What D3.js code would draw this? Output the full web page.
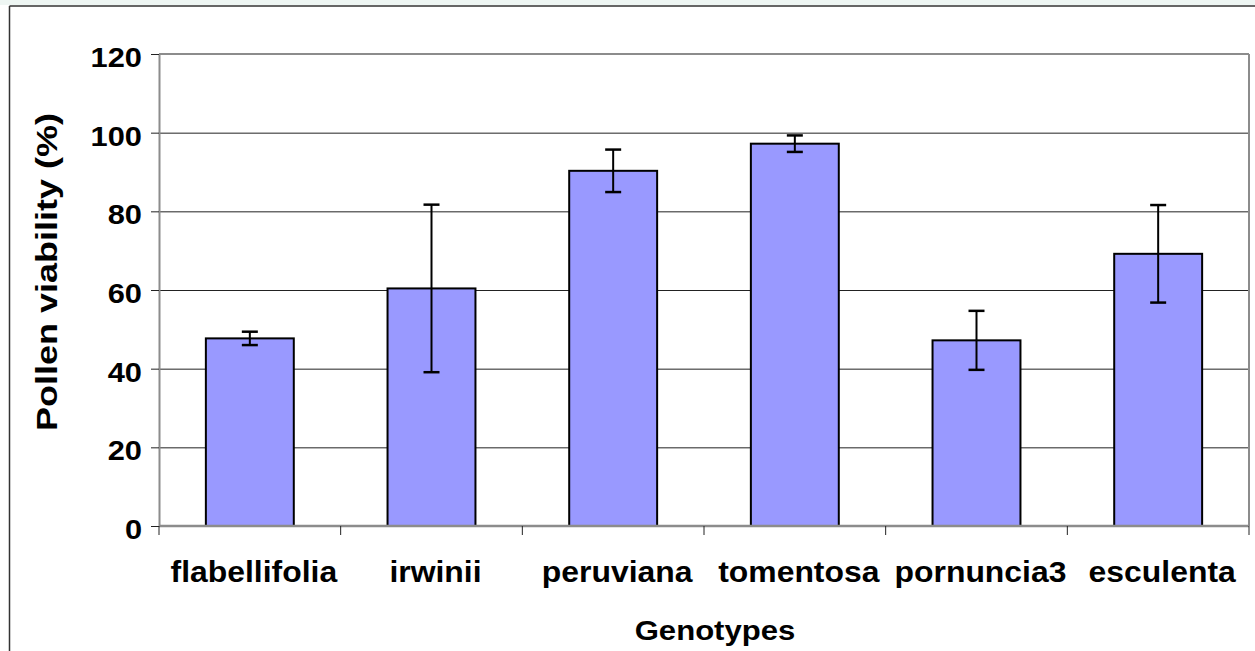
<!DOCTYPE html>
<html lang="en">
<head>
<meta charset="UTF-8">
<title>Pollen viability</title>
<style>
  body { margin: 0; background: #fff; }
  text { font-family: Arial, "Liberation Sans", sans-serif; font-weight: bold; fill: #000; }
</style>
</head>
<body>
<svg width="1255" height="651"></svg>
<script src="https://d3js.org/d3.v7.min.js"></script>
<script>

  var genotypes = ["flabellifolia", "irwinii", "peruviana", "tomentosa", "pornuncia3", "esculenta"];
  var viability = [47.7, 60.4, 90.3, 97.2, 47.2, 69.2];
  var errors = [1.7, 21.3, 5.4, 2.1, 7.5, 12.4];
  var yTicks = [0, 20, 40, 60, 80, 100, 120];

  var margin = {top: 54, right: 6, bottom: 125, left: 159};
  var svg = d3.select("svg");
  var width = +svg.attr("width") - margin.left - margin.right;
  var height = +svg.attr("height") - margin.top - margin.bottom;

  // stretch text a bit wider, like the original export
  function widen(sel, k) {
    sel.each(function() {
      var len = this.getComputedTextLength();
      d3.select(this).attr("textLength", len * k).attr("lengthAdjust", "spacingAndGlyphs");
    });
  }

  // outer frame
  svg.append("rect").attr("x", 0).attr("y", 0).attr("width", 1255).attr("height", 5)
    .attr("fill", "#eef6f3");
  svg.append("line").attr("x1", 9.5).attr("x2", 1255).attr("y1", 6).attr("y2", 6)
    .attr("stroke", "#333").attr("stroke-width", 1.5);
  svg.append("line").attr("x1", 9.5).attr("x2", 9.5).attr("y1", 6).attr("y2", 651)
    .attr("stroke", "#333").attr("stroke-width", 1.5);

  var g = svg.append("g").attr("transform", "translate(" + margin.left + "," + margin.top + ")");

  var y = d3.scaleLinear().domain([0, 120]).range([height, 0]);
  var x = d3.scaleBand().domain(genotypes).range([0, width]).paddingInner(0.516).paddingOuter(0.258);
  var xTicks = d3.scaleBand().domain(genotypes).range([0, width]);

  // gridlines
  g.selectAll(".grid").data(yTicks.filter(function(d) { return d > 0 && d < 120; }))
    .enter().append("line")
    .attr("x1", 0).attr("x2", width)
    .attr("y1", function(d) { return y(d) + 0.5; }).attr("y2", function(d) { return y(d) + 0.5; })
    .attr("stroke", "#222").attr("stroke-width", 1);

  // plot border (top, right)
  g.append("line").attr("x1", 0).attr("x2", width).attr("y1", y(120)).attr("y2", y(120))
    .attr("stroke", "#8c8c8c").attr("stroke-width", 2);
  g.append("line").attr("x1", width).attr("x2", width).attr("y1", y(120)).attr("y2", y(0))
    .attr("stroke", "#8c8c8c").attr("stroke-width", 2);

  // y axis
  var yAxis = g.append("g").call(d3.axisLeft(y).tickValues(yTicks).tickSize(8).tickSizeOuter(0).tickPadding(9));
  yAxis.select(".domain").attr("stroke", "#8c8c8c").attr("stroke-width", 2);
  yAxis.selectAll(".tick line").attr("stroke", "#222");
  yAxis.selectAll("text").attr("font-size", 28).attr("dy", "0.45em")
    .style("font-family", "Arial, 'Liberation Sans', sans-serif").style("font-weight", "bold")
    .call(widen, 1.1);

  // bars
  g.selectAll(".bar").data(genotypes).enter().append("rect")
    .attr("x", function(d) { return x(d); })
    .attr("y", function(d, i) { return y(viability[i]); })
    .attr("width", x.bandwidth())
    .attr("height", function(d, i) { return y(0) - y(viability[i]); })
    .attr("fill", "#9999ff").attr("stroke", "#000").attr("stroke-width", 2);

  // error bars
  var eb = g.selectAll(".err").data(genotypes).enter().append("g");
  var cx = function(d) { return x(d) + x.bandwidth() / 2; };
  eb.append("line")
    .attr("x1", cx).attr("x2", cx)
    .attr("y1", function(d, i) { return y(viability[i] + errors[i]); })
    .attr("y2", function(d, i) { return y(viability[i] - errors[i]); })
    .attr("stroke", "#000").attr("stroke-width", 2);
  [1, -1].forEach(function(s) {
    eb.append("line")
      .attr("x1", function(d) { return cx(d) - 8; }).attr("x2", function(d) { return cx(d) + 8; })
      .attr("y1", function(d, i) { return y(viability[i] + s * errors[i]); })
      .attr("y2", function(d, i) { return y(viability[i] + s * errors[i]); })
      .attr("stroke", "#000").attr("stroke-width", 2.5);
  });

  // x axis
  var xAxisG = g.append("g").attr("transform", "translate(0," + height + ")");
  xAxisG.append("line").attr("x1", 0).attr("x2", width).attr("y1", 0).attr("y2", 0)
    .attr("stroke", "#8c8c8c").attr("stroke-width", 2.5);
  var tickPos = genotypes.map(function(d) { return xTicks(d); }).concat([width]);
  xAxisG.selectAll(".xt").data(tickPos).enter().append("line")
    .attr("x1", function(d) { return d; }).attr("x2", function(d) { return d; })
    .attr("y1", 0).attr("y2", 9).attr("stroke", "#222");
  xAxisG.selectAll(".xl").data(genotypes).enter().append("text")
    .attr("x", function(d) { return xTicks(d) + xTicks.bandwidth() / 2 + 4; })
    .attr("y", 56)
    .attr("text-anchor", "middle").attr("font-size", 29)
    .text(function(d) { return d; })
    .call(widen, 1.1);

  // titles
  svg.append("text").attr("x", 715).attr("y", 640).attr("text-anchor", "middle")
    .attr("font-size", 28).text("Genotypes").call(widen, 1.11);
  svg.append("text").attr("transform", "translate(57,272) rotate(-90)")
    .attr("text-anchor", "middle").attr("font-size", 30).text("Pollen viability (%)")
    .call(widen, 1.2);

</script>
</body>
</html>
